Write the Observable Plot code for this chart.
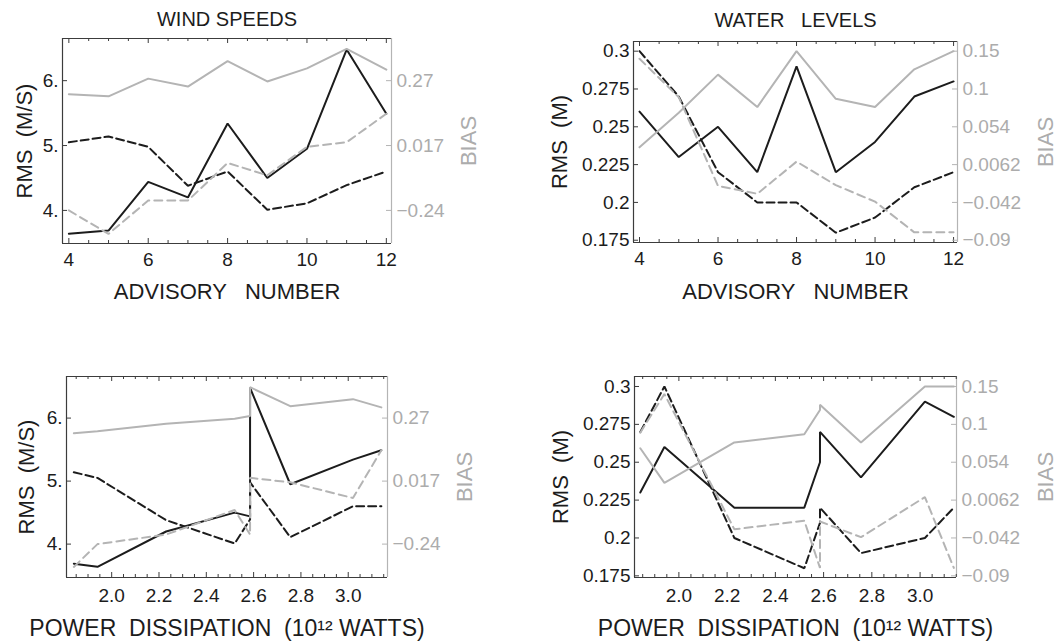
<!DOCTYPE html>
<html>
<head>
<meta charset="utf-8">
<script src="https://cdn.jsdelivr.net/npm/d3@7"></script>
<script src="https://cdn.jsdelivr.net/npm/@observablehq/plot@0.6"></script>
<style>
  html, body { margin: 0; padding: 0; background: #fff; }
  #chart { position: relative; width: 1059px; height: 642px; overflow: hidden; background: #fff; }
  .panel { position: absolute; }
  .panel svg { overflow: visible; }
  svg text { white-space: pre; }
</style>
</head>
<body>
<div id="chart"></div>
<script>
// Forecast advisories and the storm's power dissipation at each one
const advisories = [4, 5, 6, 7, 8, 9, 10, 11, 12];
const powerDissipation = [1.94, 1.84, 2.585, 2.23, 3.02, 2.52, 2.755, 2.585, 3.14];

// Wind speeds: RMS error (m/s) and bias, two model runs (solid / dashed)
const windRmsSolid   = [3.64, 3.69, 4.44, 4.20, 5.34, 4.50, 4.95, 6.48, 5.49];
const windRmsDashed  = [5.05, 5.14, 4.98, 4.38, 4.60, 4.01, 4.11, 4.39, 4.60];
const windBiasSolid  = [0.217, 0.209, 0.278, 0.247, 0.346, 0.267, 0.318, 0.394, 0.313];
const windBiasDashed = [-0.240, -0.333, -0.201, -0.201, -0.052, -0.101, 0.012, 0.030, 0.141];

// Water levels: RMS error (m) and bias
const waterRmsSolid   = [0.26, 0.23, 0.25, 0.22, 0.29, 0.22, 0.24, 0.27, 0.28];
const waterRmsDashed  = [0.30, 0.27, 0.22, 0.20, 0.20, 0.18, 0.19, 0.21, 0.22];
const waterBiasSolid  = [0.028, 0.071, 0.119, 0.078, 0.150, 0.088, 0.078, 0.126, 0.150];
const waterBiasDashed = [0.140, 0.090, -0.021, -0.031, 0.010, -0.020, -0.041, -0.080, -0.080];

// Tick values and their printed labels
const windRmsTicks = [4, 5, 6];
const windRmsTickLabels = ["4.", "5.", "6."];
const windBiasTicks = [-0.24, 0.017, 0.27];
const windBiasTickLabels = ["\u22120.24", "0.017", "0.27"];
const waterRmsTicks = [0.175, 0.2, 0.225, 0.25, 0.275, 0.3];
const waterRmsTickLabels = ["0.175", "0.2", "0.225", "0.25", "0.275", "0.3"];
const waterBiasTicks = [-0.09, -0.042, 0.0062, 0.054, 0.1, 0.15];
const waterBiasTickLabels = ["\u22120.09", "\u22120.042", "0.0062", "0.054", "0.1", "0.15"];
const advisoryTicks = [4, 6, 8, 10, 12];
const advisoryTickLabels = ["4", "6", "8", "10", "12"];
const powerTicks = [2.0, 2.2, 2.4, 2.6, 2.8, 3.0];
const powerTickLabels = ["2.0", "2.2", "2.4", "2.6", "2.8", "3.0"];

const DARK = "#1c1c1c";
const FRAME = "#3c3c3c";
const GRAY = "#b4b4b4";
const GRAY_TEXT = "#acacac";
const FONT = "'Liberation Sans', Arial, Helvetica, sans-serif";

function minorTicks(lo, hi, step, majors) {
  const out = [];
  for (let k = Math.ceil(lo / step - 1e-9); k * step <= hi + 1e-9; k++) {
    const v = +(k * step).toFixed(6);
    if (!majors.some(m => Math.abs(m - v) < 1e-6)) out.push(v);
  }
  return out;
}

function drawPanel(cfg) {
  const {left, top, width, height, ml, mr, mt, mb, xDomain, yDomain} = cfg;
  const fw = width - ml - mr, fh = height - mt - mb;
  const toRms = d3.scaleLinear().domain(cfg.biasTicks).range(cfg.yTicks);
  const xLab = new Map(cfg.xTicks.map((t, i) => [t, cfg.xTickLabels[i]]));
  const yLab = new Map(cfg.yTicks.map((t, i) => [t, cfg.yTickLabels[i]]));
  const bLab = new Map(cfg.yTicks.map((t, i) => [t, cfg.biasTickLabels[i]]));

  const lines = cfg.series.map(s => {
    const ys = s.bias ? s.values.map(toRms) : s.values;
    let rows = cfg.xValues.map((x, i) => ({x, y: ys[i]}));
    if (cfg.sortByX) rows = rows.sort((a, b) => a.x - b.x || a.y - b.y);
    return Plot.line(rows, {
      x: "x", y: "y",
      stroke: s.bias ? GRAY : DARK,
      strokeWidth: 2,
      strokeDasharray: s.dashed ? (s.bias ? "8,5" : "8,4") : null,
      strokeLinejoin: "miter"
    });
  });

  const minors = minorTicks(xDomain[0], xDomain[1], cfg.xMinorStep, cfg.xTicks);

  const plot = Plot.plot({
    width, height,
    marginLeft: ml, marginRight: mr, marginTop: mt, marginBottom: mb,
    x: {domain: xDomain},
    y: {domain: yDomain},
    style: {fontFamily: FONT, fontSize: "19px", background: "transparent", overflow: "visible"},
    marks: [
      ...lines,
      // frame: dark on three sides, grey on the bias side
      Plot.ruleY([yDomain[0], yDomain[1]], {y: d => d, stroke: FRAME, strokeWidth: 1.2}),
      Plot.ruleX([xDomain[0]], {x: d => d, stroke: FRAME, strokeWidth: 1.2}),
      Plot.ruleX([xDomain[1]], {x: d => d, stroke: GRAY, strokeWidth: 1.2}),
      // inward ticks
      Plot.ruleX(cfg.xTicks, {x: d => d, insetTop: fh - 5, stroke: FRAME}),
      Plot.ruleX(cfg.xTicks, {x: d => d, insetBottom: fh - 5, stroke: FRAME}),
      Plot.ruleX(minors, {x: d => d, insetTop: fh - 3, stroke: FRAME}),
      Plot.ruleX(minors, {x: d => d, insetBottom: fh - 3, stroke: FRAME}),
      Plot.ruleY(cfg.yTicks, {y: d => d, insetRight: fw - 5, stroke: FRAME}),
      Plot.ruleY(cfg.yTicks, {y: d => d, insetLeft: fw - 5, stroke: GRAY}),
      // tick labels
      Plot.axisX(cfg.xTicks, {tickSize: 0, tickPadding: cfg.xTickPadding, tickFormat: d => xLab.get(d), label: null, fill: DARK, fontSize: 19}),
      Plot.axisY(cfg.yTicks, {anchor: "left", tickSize: 0, tickPadding: 4, tickFormat: d => yLab.get(d), label: null, fill: DARK, fontSize: 19}),
      Plot.axisY(cfg.yTicks, {anchor: "right", tickSize: 0, tickPadding: 5, tickFormat: d => bLab.get(d), label: null, fill: GRAY_TEXT, fontSize: 19}),
      // titles and axis names
      ...(cfg.title ? [Plot.text([cfg.title], {text: d => d, frameAnchor: "top", dy: cfg.titleDy, lineAnchor: "bottom", fontSize: 20, fill: DARK})] : []),
      Plot.text([cfg.xLabel], {text: d => d, frameAnchor: "bottom", dy: cfg.xLabelDy, lineAnchor: "bottom", fontSize: cfg.xLabelSize, fill: DARK}),
      Plot.text([cfg.yLabel], {text: d => d, frameAnchor: "left", dx: cfg.yLabelDx, rotate: -90, lineAnchor: "bottom", textAnchor: "middle", fontSize: 22, fill: DARK}),
      Plot.text(["BIAS"], {text: d => d, frameAnchor: "right", dx: cfg.biasLabelDx, rotate: -90, lineAnchor: "bottom", textAnchor: "middle", fontSize: 22, fill: GRAY_TEXT})
    ]
  });

  const div = document.createElement("div");
  div.className = "panel";
  div.style.left = left + "px";
  div.style.top = top + "px";
  div.style.width = width + "px";
  div.style.height = height + "px";
  div.appendChild(plot);
  document.getElementById("chart").appendChild(div);
}

const windSeries = [
  {values: windRmsSolid}, {values: windRmsDashed, dashed: true},
  {values: windBiasSolid, bias: true}, {values: windBiasDashed, bias: true, dashed: true}
];
const waterSeries = [
  {values: waterRmsSolid}, {values: waterRmsDashed, dashed: true},
  {values: waterBiasSolid, bias: true}, {values: waterBiasDashed, bias: true, dashed: true}
];

const advisoryAxis = {
  xValues: advisories, xTicks: advisoryTicks, xTickLabels: advisoryTickLabels,
  xMinorStep: 0.5, xTickPadding: 9, xLabel: "ADVISORY   NUMBER", xLabelSize: 22
};
const powerAxis = {
  xValues: powerDissipation, xTicks: powerTicks, xTickLabels: powerTickLabels,
  xMinorStep: 0.05, xTickPadding: 11, sortByX: true, xLabelSize: 23,
  xLabel: "POWER  DISSIPATION  (10\u00B9\u00B2 WATTS)"
};
const windAxis = {
  yTicks: windRmsTicks, yTickLabels: windRmsTickLabels,
  biasTicks: windBiasTicks, biasTickLabels: windBiasTickLabels,
  yLabel: "RMS  (M/S)", series: windSeries
};
const waterAxis = {
  yTicks: waterRmsTicks, yTickLabels: waterRmsTickLabels,
  biasTicks: waterBiasTicks, biasTickLabels: waterBiasTickLabels,
  yLabel: "RMS  (M)", series: waterSeries
};

drawPanel({
  ...advisoryAxis, ...windAxis, title: "WIND SPEEDS",
  left: 0, top: 0, width: 530, height: 321, ml: 62, mr: 139, mt: 38, mb: 78,
  xDomain: [3.84, 12.13], yDomain: [3.49, 6.65],
  titleDy: -13, xLabelDy: 55, yLabelDx: -31, biasLabelDx: 84
});
drawPanel({
  ...advisoryAxis, ...waterAxis, title: "WATER   LEVELS",
  left: 530, top: 0, width: 529, height: 321, ml: 103, mr: 102, mt: 41, mb: 79,
  xDomain: [3.847, 12.10], yDomain: [0.1735, 0.3064],
  titleDy: -15, xLabelDy: 56, yLabelDx: -67, biasLabelDx: 95
});
drawPanel({
  ...powerAxis, ...windAxis,
  left: 0, top: 321, width: 530, height: 321, ml: 66, mr: 143, mt: 55, mb: 65,
  xDomain: [1.809, 3.166], yDomain: [3.47, 6.66],
  xLabelDy: 58, yLabelDx: -33, biasLabelDx: 84
});
drawPanel({
  ...powerAxis, ...waterAxis,
  left: 530, top: 321, width: 529, height: 321, ml: 104, mr: 103, mt: 55, mb: 65,
  xDomain: [1.816, 3.151], yDomain: [0.1739, 0.3066],
  xLabelDy: 58, yLabelDx: -67, biasLabelDx: 96
});
</script>
</body>
</html>
